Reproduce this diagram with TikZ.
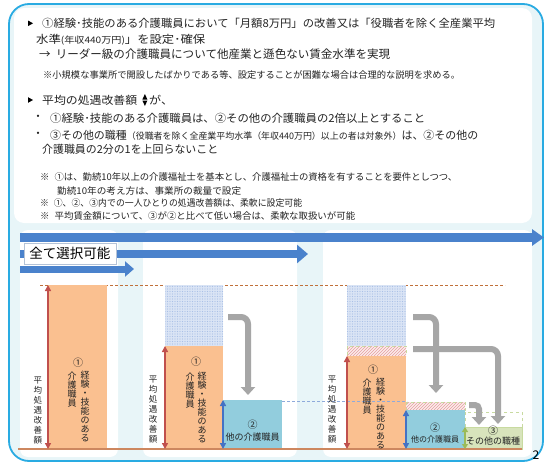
\documentclass[tikz,border=0pt]{standalone}
\usepackage{fontspec}
\setmainfont{Noto Sans CJK JP}
\usepackage{graphicx}
\usetikzlibrary{arrows.meta,patterns,calc}
\definecolor{frameblue}{RGB}{41,171,226}
\definecolor{bgcyan}{RGB}{232,245,248}
\definecolor{txt}{RGB}{35,35,35}
\definecolor{arrblue}{RGB}{74,130,204}
\definecolor{barorange}{RGB}{250,192,144}
\definecolor{redarr}{RGB}{192,80,77}
\definecolor{barblue}{RGB}{146,205,221}
\definecolor{bluearr}{RGB}{68,114,196}
\definecolor{bargreen}{RGB}{216,228,188}
\definecolor{greenarr}{RGB}{155,187,89}
\definecolor{grayarr}{RGB}{166,166,166}
\definecolor{brownline}{RGB}{192,112,58}
\definecolor{baseorange}{RGB}{205,135,95}
\definecolor{dashblue}{RGB}{142,170,219}
\definecolor{patblue}{RGB}{218,228,245}
\definecolor{patdot}{RGB}{170,192,230}
\definecolor{pinkbg}{RGB}{252,236,236}
\definecolor{pinkhatch}{RGB}{228,160,160}
\definecolor{palegreen}{RGB}{200,218,160}
\definecolor{labelborder}{RGB}{180,195,215}
\pgfdeclarepatternformonly{finedots}{\pgfqpoint{-0.6pt}{-0.6pt}}{\pgfqpoint{1.9pt}{1.9pt}}{\pgfqpoint{2.5pt}{2.5pt}}{\pgfpathcircle{\pgfqpoint{0pt}{0pt}}{0.55pt}\pgfusepath{fill}}
\newcommand{\fitw}[2]{\resizebox{#1pt}{\height}{#2}}
\begin{document}
\begin{tikzpicture}[x=1pt,y=-1pt,
  ln/.style={inner sep=0pt, text=txt, font=\fontsize{11}{13}\selectfont},
  lns/.style={inner sep=0pt, text=txt, font=\fontsize{9.3}{11}\selectfont},
  panel/.style={fill=white, rounded corners=8pt},
  bigarrow/.style={draw=arrblue, line width=#1},
  barbox/.style={inner sep=0pt, outer sep=0pt, anchor=north west},
  dblred/.style={draw=redarr, line width=1.6pt, {Triangle[width=6pt,length=6pt]}-{Triangle[width=6pt,length=6pt]}},
  dblblue/.style={draw=bluearr, line width=1.6pt, {Triangle[width=6pt,length=6pt]}-{Triangle[width=6pt,length=6pt]}},
  dblgreen/.style={draw=greenarr, line width=1.6pt, {Triangle[width=6pt,length=5pt]}-{Triangle[width=6pt,length=5pt]}},
  grayarrow/.style={draw=grayarr, line width=6pt, rounded corners=7pt, -{Triangle[width=14pt,length=8pt]}},
  vt/.style={font=\fontsize{9}{9}\selectfont, align=center, inner sep=0pt, text=txt},
  vts/.style={font=\fontsize{8.5}{10}\selectfont, align=center, inner sep=0pt, text=txt},
  circ/.style={font=\fontsize{10}{10}\selectfont, inner sep=0pt, text=txt},
  lab/.style={font=\fontsize{9}{9}\selectfont, inner sep=0pt, text=txt}]
\useasboundingbox (0,0) rectangle (550,469);
\fill[white] (0,0) rectangle (550,469);
% frame and panels
\draw[fill=bgcyan, draw=frameblue, line width=1.8pt, rounded corners=20pt] (9,4) rectangle (543,461);
\fill[panel, rounded corners=10pt] (14,8) rectangle (532,223);
\fill[panel] (20,230) rectangle (118,457);
\fill[panel] (143,230) rectangle (297,457);
\fill[panel] (323,230) rectangle (532,457);
\node[anchor=center, inner sep=0pt, font=\fontsize{12}{12}\selectfont] (pg) at (536,455) {2};

% ---------- text panel ----------
\fill[black] (28,20.5) -- (33,23.3) -- (28,26.1) -- cycle;
\node[ln, anchor=west] (l1) at (42,23.3) {\fitw{453}{①経験･技能のある介護職員において「月額8万円」の改善又は「役職者を除く全産業平均}};
\node[ln, anchor=west] (l2) at (36,39.5) {\fitw{169}{水準{\fontsize{9}{11}\selectfont(年収440万円)}」を設定･確保}};
\node[ln, anchor=west, font=\fontsize{11.5}{13}\selectfont] (l3) at (39,54.5) {\fitw{351}{→\hspace{5pt}リーダー級の介護職員について他産業と遜色ない賃金水準を実現}};
\node[lns, anchor=west] (l4) at (43,75) {\fitw{417}{※小規模な事業所で開設したばかりである等、設定することが困難な場合は合理的な説明を求める。}};

\fill[black] (28,97.2) -- (33,100) -- (28,102.8) -- cycle;
\node[ln, anchor=west] (l5) at (42,100) {\fitw{95}{平均の処遇改善額}};
\fill[black] ($(l5.east)+(5,-0.5)$) -- ++(5,0) -- ++(-2.5,-5.5) -- cycle;
\fill[black] ($(l5.east)+(5,0.5)$) -- ++(5,0) -- ++(-2.5,5.5) -- cycle;
\node[ln, anchor=west] (l5b) at (149,100) {\fitw{24}{が、}};

\node[ln] (d6) at (38,118.3) {・};
\node[ln, anchor=west] (l6) at (50,118.3) {\fitw{375}{①経験･技能のある介護職員は、②その他の介護職員の2倍以上とすること}};
\node[ln] (d7) at (38,135) {・};
\node[ln, anchor=west] (l7) at (50,135) {\fitw{428}{③その他の職種{\fontsize{9}{11}\selectfont（役職者を除く全産業平均水準（年収440万円）以上の者は対象外）}は、②その他の}};
\node[ln, anchor=west] (l8) at (42,149) {\fitw{176}{介護職員の2分の1を上回らないこと}};

\node[lns, anchor=west] (l9) at (40,176.7) {\fitw{417}{※\hspace{5pt}①は、勤続10年以上の介護福祉士を基本とし、介護福祉士の資格を有することを要件としつつ、}};
\node[lns, anchor=west] (l10) at (57,191) {\fitw{184}{勤続10年の考え方は、事業所の裁量で設定}};
\node[lns, anchor=west] (l11) at (40,203.3) {\fitw{262}{※\hspace{5pt}①、②、③内での一人ひとりの処遇改善額は、柔軟に設定可能}};
\node[lns, anchor=west] (l12) at (40,215.7) {\fitw{315}{※\hspace{5pt}平均賃金額について、③が②と比べて低い場合は、柔軟な取扱いが可能}};

% ---------- big blue arrows ----------
\coordinate (a1s) at (20,237.5); \coordinate (a1e) at (544,237.5);
\coordinate (a2s) at (20,254);   \coordinate (a2e) at (308,254);
\coordinate (a3s) at (20,269);   \coordinate (a3e) at (134,269);
\draw[bigarrow=9pt, -{Triangle[width=16pt,length=12pt]}] (a1s) -- (a1e);
\draw[bigarrow=8pt, -{Triangle[width=18pt,length=11pt]}] (a2s) -- (a2e);
\draw[bigarrow=7pt, -{Triangle[width=15pt,length=9pt]}] (a3s) -- (a3e);
\node[fill=white, draw=labelborder, line width=0.6pt, minimum width=92pt, minimum height=21pt, inner sep=0pt,
      font=\fontsize{13.5}{14}\selectfont, text=black] (sel) at (70,253.5) {\fitw{81}{全て選択可能}};

% ---------- reference lines ----------
\coordinate (t1) at (40,285); \coordinate (t2) at (505,285);
\draw[brownline, line width=0.8pt, dash pattern=on 3pt off 2pt] (t1) -- (t2);

% ---------- column 1 ----------
\node[barbox, fill=barorange, minimum width=59pt, minimum height=164pt] (b1) at (48,285) {};
% ---------- column 2 ----------
\fill[patblue] (165,285) rectangle (223,346);
\fill[pattern=finedots, pattern color=patdot] (165,285) rectangle (223,346);
\node[barbox, fill=barorange, minimum width=58pt, minimum height=103pt] (b2) at (165,346) {};
\node[barbox, fill=barblue, minimum width=59pt, minimum height=49pt] (c2) at (223,400) {};
% ---------- column 3 ----------
\fill[patblue] (347,285) rectangle (406,346);
\fill[pattern=finedots, pattern color=patdot] (347,285) rectangle (406,346);
\fill[pinkbg] (347,346) rectangle (406,356);
\fill[pattern=north east lines, pattern color=pinkhatch] (347,346) rectangle (406,356);
\draw[palegreen, line width=0.6pt, dashed] (347,346) rectangle (406,356);
\node[barbox, fill=barorange, minimum width=59pt, minimum height=93pt] (b3) at (347,356) {};
\fill[pinkbg] (406,402) rectangle (465,410);
\fill[pattern=north east lines, pattern color=pinkhatch] (406,402) rectangle (465,410);
\draw[palegreen, line width=0.6pt, dashed] (406,402) rectangle (465,410);
\node[barbox, fill=barblue, minimum width=59pt, minimum height=39pt] (c3) at (406,410) {};
\draw[palegreen, line width=0.6pt, dashed] (465,412) rectangle (522,427);
\node[barbox, fill=bargreen, draw=palegreen, line width=0.5pt, minimum width=57pt, minimum height=22pt] (d3) at (465,427) {};

% baseline
\coordinate (bl1) at (18,449); \coordinate (bl2) at (522,449);
\draw[baseorange, line width=1.2pt] (bl1) -- (bl2);

% blue dashed level
\coordinate (q1) at (282,401); \coordinate (q2) at (407,401);
\draw[dashblue, line width=0.8pt, dash pattern=on 3pt off 2pt] (q1) -- (q2);

% double arrows
\draw[dblred] (b1.south west) -- (b1.north west);
\draw[dblred] (b2.south west) -- (b2.north west);
\draw[dblred] (b3.south west) -- (b3.north west);
\draw[dblblue] (c2.south west) -- (c2.north west);
\draw[dblblue] (c3.south west) -- (c3.north west);
\draw[dblgreen] (d3.south west) -- (d3.north west);

% gray arrows
\coordinate (g2s) at (228,317); \coordinate (g2e) at (248,395);
\coordinate (g3as) at (413,317); \coordinate (g3ae) at (436,393);
\coordinate (g3bs) at (413,349); \coordinate (g3be) at (498,424);
\coordinate (g3cs) at (469,405); \coordinate (g3ce) at (479,425);
\draw[grayarrow] (g2s) -| (g2e);
\draw[grayarrow] (g3as) -| (g3ae);
\draw[grayarrow] (g3bs) -| (g3be);
\draw[grayarrow, rounded corners=4pt] (g3cs) -| (g3ce);

% side labels
\node[vts] (s1) at (38,411) {平\\均\\処\\遇\\改\\善\\額};
\node[vts] (s2) at (153,410) {平\\均\\処\\遇\\改\\善\\額};
\node[vts] (s3) at (332,410) {平\\均\\処\\遇\\改\\善\\額};

% bar texts column 1
\node[circ] (n1) at (78,363) {①};
\node[vt] (k1) at (72,390) {介\\護\\職\\員};
\node[vt] (e1) at (85,406.5) {経\\験\\・\\技\\能\\の\\あ\\る};
% column 2
\node[circ] (n2) at (196,362) {①};
\node[vt] (k2) at (190,390.5) {介\\護\\職\\員};
\node[vt] (e2) at (202,407.5) {経\\験\\・\\技\\能\\の\\あ\\る};
\node[circ] (m2) at (252.5,425) {②};
\node[lab] (o2) at (252.5,437) {他の介護職員};
% column 3
\node[circ] (n3) at (373,370) {①};
\node[vt] (k3) at (367,396.5) {介\\護\\職\\員};
\node[vt] (e3) at (380.5,413.5) {経\\験\\・\\技\\能\\の\\あ\\る};
\node[circ] (m3) at (435,428) {②};
\node[lab, font=\fontsize{8}{8}\selectfont] (o3) at (435,439) {他の介護職員};
\node[circ] (r3) at (493,431) {③};
\node[lab] (x3) at (493,441) {その他の職種};
\end{tikzpicture}
\end{document}
